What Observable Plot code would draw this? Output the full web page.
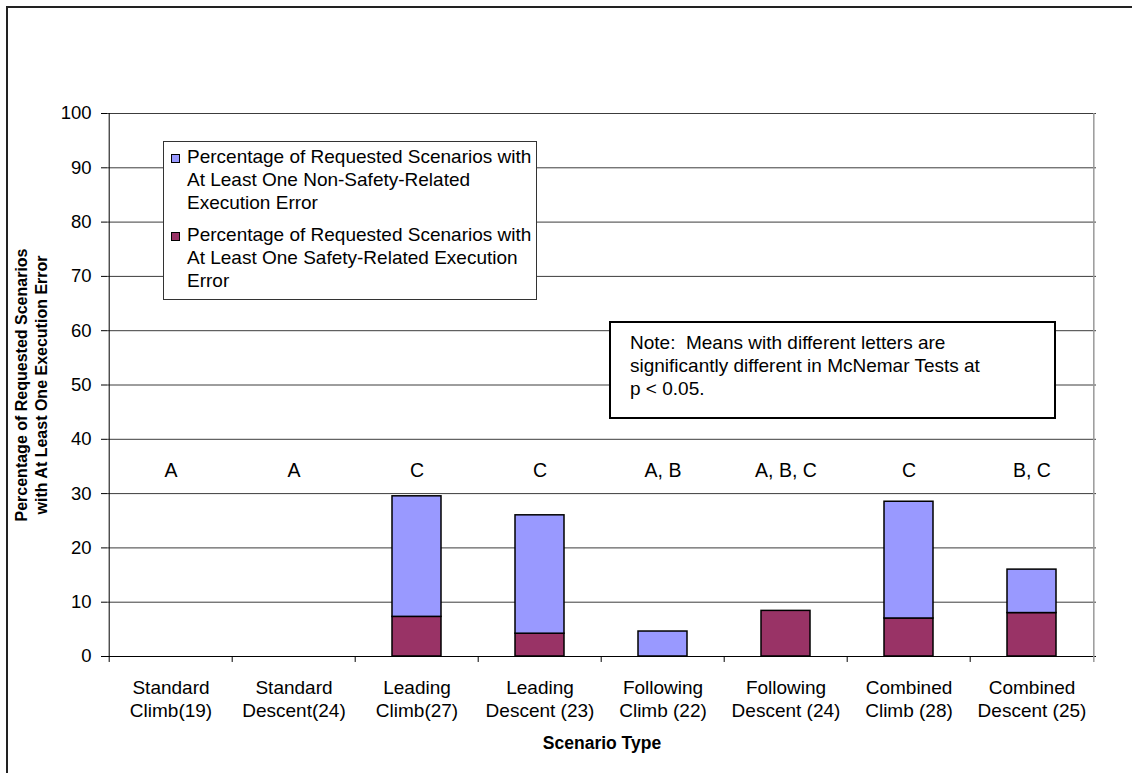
<!DOCTYPE html>
<html>
<head>
<meta charset="utf-8">
<script src="https://cdn.jsdelivr.net/npm/d3@7"></script>
<script src="https://cdn.jsdelivr.net/npm/@observablehq/plot@0.6"></script>
<style>
html, body { margin: 0; padding: 0; background: #fff; overflow: hidden; }
#wrap { position: relative; width: 1135px; height: 773px; font-family: "Liberation Sans", Arial, sans-serif; color: #000; }
#border { position: absolute; left: 6px; top: 6px; width: 1124px; height: 800px; border-left: 2px solid #222; border-top: 2px solid #222; pointer-events: none; }
#chart { position: absolute; left: 0; top: 0; }
#legend { position: absolute; left: 163px; top: 141px; width: 372px; height: 154px; border: 1px solid #333; background: #fff; box-sizing: content-box; padding-top: 3px; }
.item { position: relative; padding-left: 23px; font-size: 19px; line-height: 23px; white-space: nowrap; margin-bottom: 9px; }
.sw { position: absolute; left: 7px; top: 9px; width: 7px; height: 7px; border: 1px solid #000; }
#note { position: absolute; left: 609px; top: 321px; width: 447px; height: 98px; border: 2px solid #000; background: #fff; padding: 8px 0 0 19px; box-sizing: border-box; font-size: 19px; line-height: 23px; white-space: pre; }
</style>
</head>
<body>
<div id="wrap">
  <div id="chart"></div>
  <div id="legend"></div>
  <div id="note"></div>
  <div id="border"></div>
</div>
<script>
// ---- data ----
const categories = [
  "Standard\nClimb(19)",
  "Standard\nDescent(24)",
  "Leading\nClimb(27)",
  "Leading\nDescent (23)",
  "Following\nClimb (22)",
  "Following\nDescent (24)",
  "Combined\nClimb (28)",
  "Combined\nDescent (25)"
];
const safetyRelated    = [0, 0, 7.3, 4.2, 0,   8.4, 7.0, 8.0];
const nonSafetyRelated = [0, 0, 22.2, 21.8, 4.6, 0, 21.5, 8.0];
const letters = ["A", "A", "C", "C", "A, B", "A, B, C", "C", "B, C"];
const seriesNames = ["Non-Safety-Related", "Safety-Related"];
const legendLabels = [
  "Percentage of Requested Scenarios with\nAt Least One Non-Safety-Related\nExecution Error",
  "Percentage of Requested Scenarios with\nAt Least One Safety-Related Execution\nError"
];
const seriesColors = ["#9999FF", "#993366"];
const yTicks = [0, 10, 20, 30, 40, 50, 60, 70, 80, 90, 100];
const noteText = "Note:  Means with different letters are\nsignificantly different in McNemar Tests at\np < 0.05.";
const xTitle = "Scenario Type";
const yTitle = "Percentage of Requested Scenarios\nwith At Least One Execution Error";

// ---- table ----
const rows = [];
categories.forEach((c, i) => {
  if (safetyRelated[i] > 0) rows.push({cat: c, series: seriesNames[1], value: safetyRelated[i]});
  if (nonSafetyRelated[i] > 0) rows.push({cat: c, series: seriesNames[0], value: nonSafetyRelated[i]});
});

const W = 1135, H = 773, mL = 107, mR = 39, mT = 113, mB = 117;
const step = (W - mL - mR) / categories.length;
const font = "'Liberation Sans', Arial, sans-serif";

const chart = Plot.plot({
  width: W, height: H,
  marginLeft: mL, marginRight: mR, marginTop: mT, marginBottom: mB,
  style: {fontFamily: font, background: "transparent", overflow: "visible", color: "#000"},
  x: {domain: categories, paddingInner: 0.6, paddingOuter: 0.3},
  y: {domain: [0, 100]},
  color: {domain: seriesNames, range: seriesColors},
  marks: [
    Plot.ruleY(yTicks.filter(d => d > 0), {stroke: "#3c3c3c", strokeWidth: 1}),
    Plot.barY(rows, Plot.stackY({x: "cat", y: "value", fill: "series", stroke: "#000", strokeWidth: 1.5})),
    Plot.ruleY([0], {stroke: "#000", strokeWidth: 1}),
    Plot.ruleX([categories[0]], {dx: -step / 2, y1: 100, y2: -1.1, stroke: "#000", strokeWidth: 1}),
    Plot.ruleX(categories.slice(1), {dx: -step / 2, y1: 0, y2: -1.1, stroke: "#000", strokeWidth: 1}),
    Plot.ruleX([categories[categories.length - 1]], {dx: step / 2, y1: 100, y2: -1.1, stroke: "#999", strokeWidth: 1.5}),
    Plot.axisY(yTicks, {tickSize: 6, tickPadding: 10, fontSize: 18.5, label: null, stroke: "#000"}),
    Plot.axisX({tickSize: 0, tickPadding: 21.5, fontSize: 19, lineHeight: 1.21, label: null}),
    Plot.text(categories, {x: d => d, y: 34.3, text: (d, i) => letters[i], fontSize: 19.5}),
    Plot.text([xTitle], {frameAnchor: "bottom", dy: 92, fontWeight: "bold", fontSize: 17.5}),
    Plot.text([yTitle], {frameAnchor: "left", textAnchor: "middle", dx: -77, rotate: -90, fontWeight: "bold", fontSize: 16, lineHeight: 1.25})
  ]
});
document.getElementById("chart").appendChild(chart);

// legend
const legend = document.getElementById("legend");
legendLabels.forEach((lab, i) => {
  const item = document.createElement("div");
  item.className = "item";
  const sw = document.createElement("span");
  sw.className = "sw";
  sw.style.background = seriesColors[i];
  item.appendChild(sw);
  lab.split("\n").forEach((line, j) => {
    if (j > 0) item.appendChild(document.createElement("br"));
    item.appendChild(document.createTextNode(line));
  });
  legend.appendChild(item);
});
document.getElementById("note").textContent = noteText;
</script>
</body>
</html>
